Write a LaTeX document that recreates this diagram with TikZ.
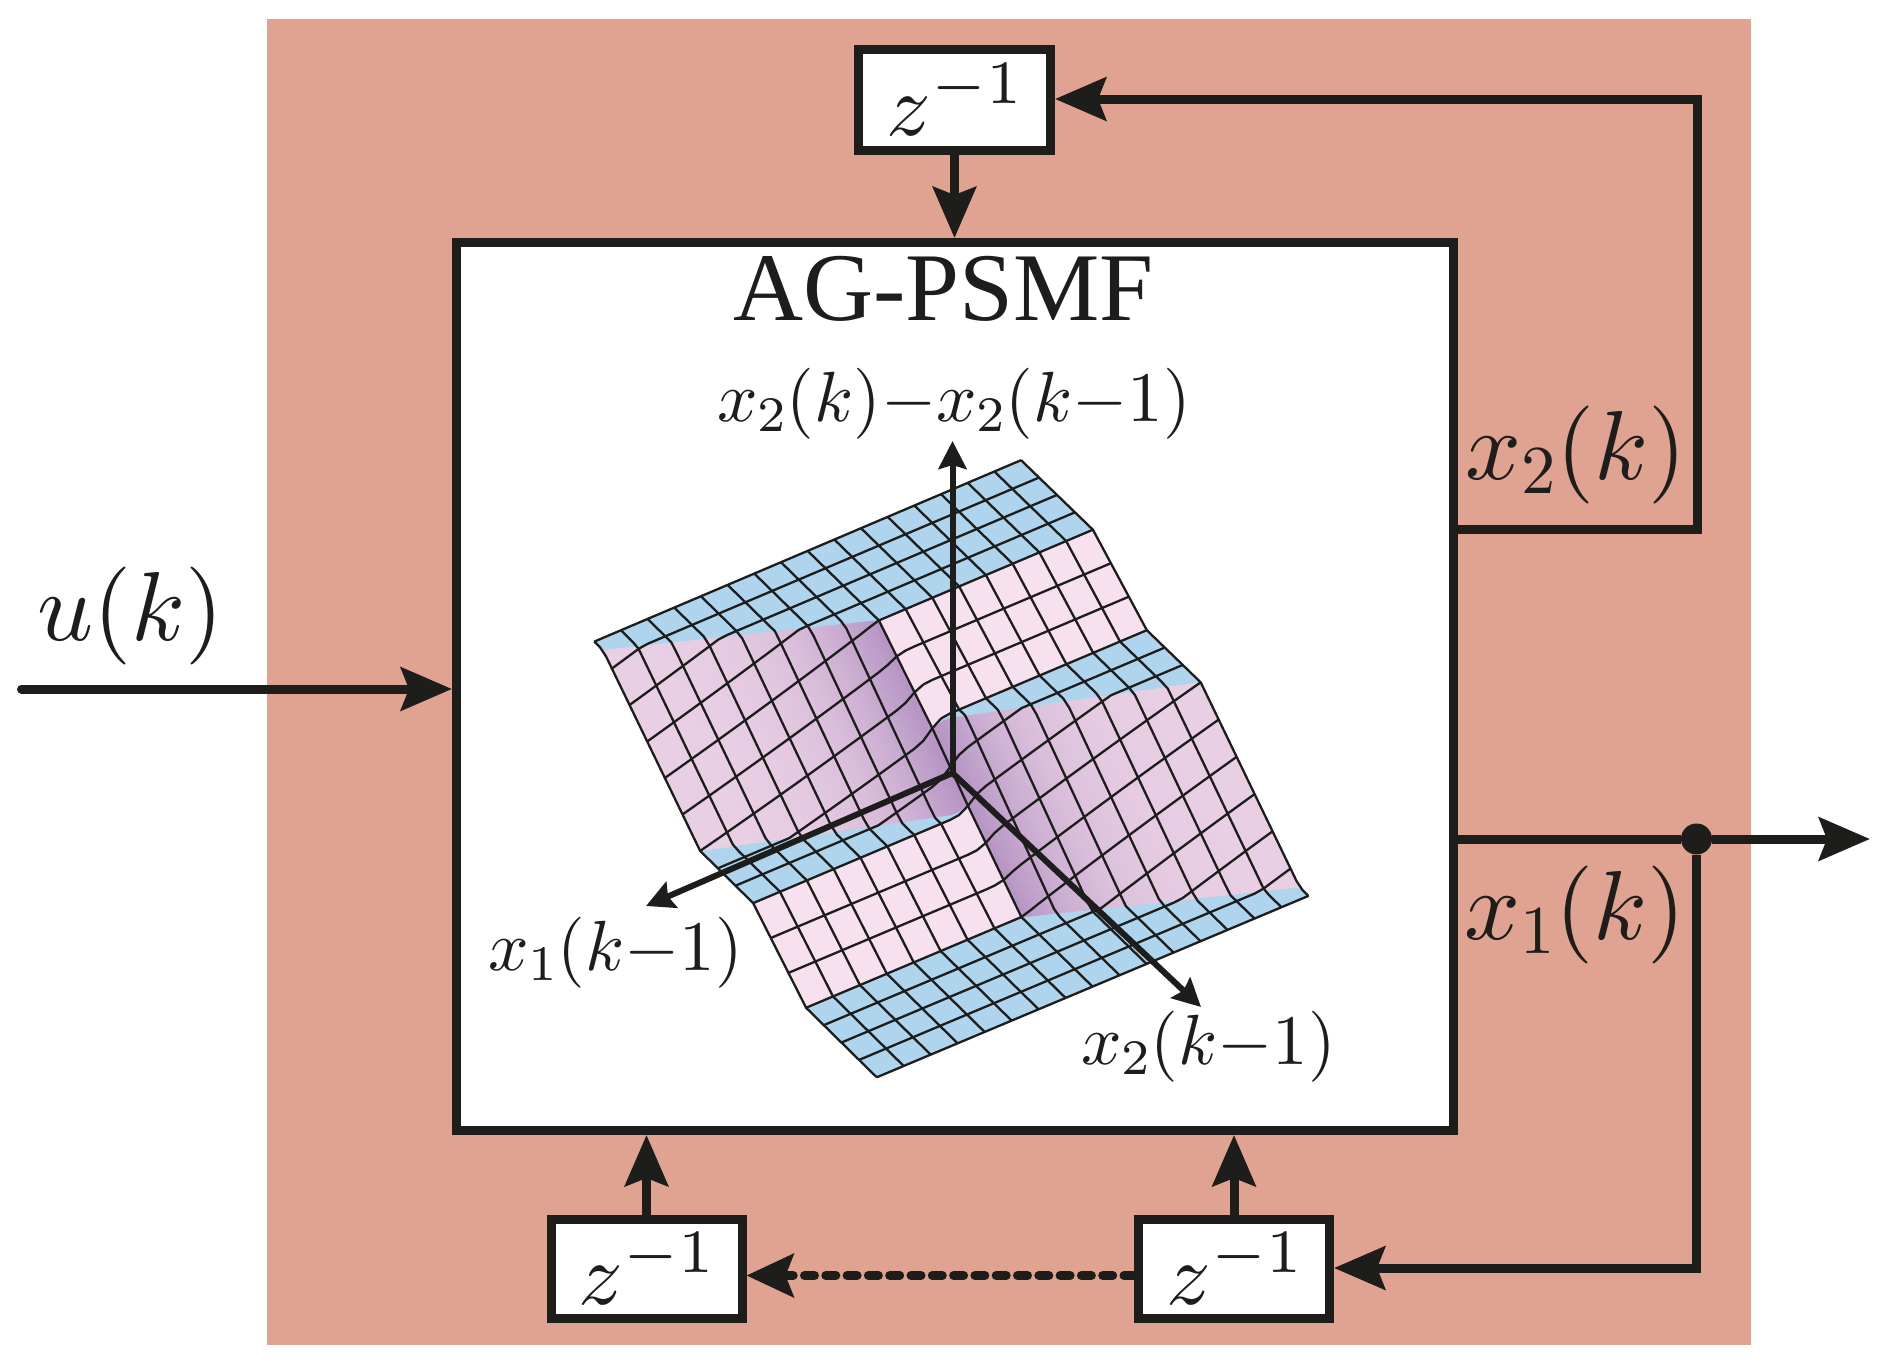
\documentclass[tikz,border=0pt]{standalone}
\usepackage[no-math]{fontspec}
\setmainfont{Liberation Serif}
\usetikzlibrary{arrows.meta,calc}
\DeclareFontShape{OML}{cmm}{m}{it}{<-68> cmmi7 <68-> cmmi10}{}
\DeclareFontShape{OMS}{cmsy}{m}{n}{<-68> cmsy7 <68-> cmsy10}{}
\DeclareFontShape{OT1}{cmr}{m}{n}{<-68> cmr7 <68-> cmr10}{}
\definecolor{ink}{HTML}{1D1D1B}
\definecolor{panel}{HTML}{E0A291}
\definecolor{bluef}{HTML}{AED4EE}
\definecolor{lightp}{HTML}{F8E1EE}
\definecolor{lobebase}{HTML}{E9CFE4}
\definecolor{lobedark}{HTML}{B594C4}
\pgfmathdeclarefunction{cl}{1}{\pgfmathparse{max(0,min(1,#1))}}
\newcommand{\sizeL}{\fontsize{98}{100}\selectfont}
\newcommand{\sizeZ}{\fontsize{88}{92}\selectfont}
\newcommand{\sizeA}{\fontsize{71}{74}\selectfont}
\newcommand{\surfpoint}[3]{%
  \pgfmathsetmacro\U{#1}%
  \pgfmathsetmacro\V{#2}%
  \pgfmathsetmacro\tl{min(\U/8,1)}%
  \pgfmathsetmacro\tr{max((\U-8)/8,0)}%
  \pgfmathsetmacro\DL{250*cl((\V-.5-3.5*\tl)/(5.5-.5*\tl))+125*cl((\V-9)/3)}%
  \pgfmathsetmacro\DR{115*cl((\V-4)/3)+260*cl((\V-7-3*\tr)/(5+.5*\tr))}%
  \pgfmathsetmacro\W{cl((\U-7.6)/.8)}%
  \pgfmathsetmacro\D{(1-\W)*\DL+\W*\DR}%
  \pgfmathsetmacro\PX{570+.485*(50+55*\U+36.4*\V+.04*\U*\V)}%
  \pgfmathsetmacro\PY{440+.42*(480-27*\U+41.4*\V+\D)}%
  \coordinate (#3) at (\PX,\PY);%
}
\tikzset{
  wire/.style={draw=ink,line width=9pt,line join=miter},
  bigarrow/.style={wire,-{Stealth[length=51pt,width=43pt,inset=8pt]}},
  axisarrow/.style={draw=ink,line width=6pt,-{Stealth[length=28pt,width=28pt,inset=4pt]}},
  blockbox/.style={draw=ink,fill=white,line width=9pt,inner sep=0pt,text=ink},
  lab/.style={inner sep=0pt,anchor=base west,text=ink},
  meshline/.style={draw=ink,line width=2.3pt,line join=round},
}
\begin{document}
\begin{tikzpicture}[x=1pt,y=-1pt]
\useasboundingbox (0,0) rectangle (1885,1366);
\fill[panel] (267,19) rectangle (1751,1345);
\node[blockbox,minimum width=996.5pt,minimum height=888pt] (main) at (954.75,686.5) {};
% surface vertices
\foreach \i in {0,...,48}{
 \foreach \j in {0,...,48}{
  \surfpoint{\i/3}{\j/3}{p-\i-\j}
 }
}
% surface colours: flat strips and light faces
\foreach \i [evaluate=\i as \ii using int(\i+1)] in {0,...,47}{
 \foreach \j [evaluate=\j as \jj using int(\j+1)] in {0,...,47}{
  \pgfmathsetmacro\U{(\i+.5)/3}
  \pgfmathsetmacro\V{(\j+.5)/3}
  \pgfmathsetmacro\tl{\U/8}
  \pgfmathsetmacro\tr{(\U-8)/8}
  \pgfmathtruncatemacro\kind{\U<8 ? (\V<.9+3.5*\tl ? 0 : (\V<5.6+3*\tl ? 2 : (\V<9 ? 0 : (\V<12 ? 1 : 0)))) : (\V<4 ? 0 : (\V<7 ? 1 : (\V<7.4+3*\tr ? 0 : (\V<11.6+3.5*\tr ? 3 : 0))))}
  \ifcase\kind\relax
    \def\cc{bluef}%
  \or
    \def\cc{lightp}%
  \or
    \def\cc{lobedark!30!lobebase}%
  \or
    \def\cc{lobedark!30!lobebase}%
  \fi
  \path[fill=\cc,draw=\cc,line width=.5pt] (p-\i-\j) -- (p-\ii-\j) -- (p-\ii-\jj) -- (p-\i-\jj) -- cycle;
 }
}
% shaded lobes, with exact borders
\foreach \c in {0,...,47}{
  \pgfmathsetmacro\ua{\c/6}
  \pgfmathsetmacro\ub{(\c+1)/6}
  \pgfmathsetmacro\sh{100*((\c+.5)/48)^3}
  \surfpoint{\ua}{.5+3.5*\ua/8}{qa}
  \surfpoint{\ub}{.5+3.5*\ub/8}{qb}
  \surfpoint{\ub}{6+3*\ub/8}{qc}
  \surfpoint{\ua}{6+3*\ua/8}{qd}
  \path[fill=lobedark!\sh!lobebase,draw=lobedark!\sh!lobebase,line width=.5pt] (qa) -- (qb) -- (qc) -- (qd) -- cycle;
}
\foreach \c in {0,...,47}{
  \pgfmathsetmacro\ua{8+\c/6}
  \pgfmathsetmacro\ub{8+(\c+1)/6}
  \pgfmathsetmacro\sh{100*(1-(\c+.5)/48)^3}
  \surfpoint{\ua}{7+3*(\ua-8)/8}{qa}
  \surfpoint{\ub}{7+3*(\ub-8)/8}{qb}
  \surfpoint{\ub}{12+3.5*(\ub-8)/8}{qc}
  \surfpoint{\ua}{12+3.5*(\ua-8)/8}{qd}
  \path[fill=lobedark!\sh!lobebase,draw=lobedark!\sh!lobebase,line width=.5pt] (qa) -- (qb) -- (qc) -- (qd) -- cycle;
}
% mesh lines
\foreach \r in {0,...,16}{
  \pgfmathtruncatemacro\k{3*\r}
  \draw[meshline] (p-0-\k) \foreach \s in {1,...,48}{ -- (p-\s-\k)};
  \draw[meshline] (p-\k-0) \foreach \s in {1,...,48}{ -- (p-\k-\s)};
}
% axes
\coordinate (orig) at (952.5,773);
\coordinate (axup) at (952.5,441);
\coordinate (axleft) at (646,906);
\coordinate (axright) at (1201,1007);
\draw[axisarrow] (orig) -- (axup);
\draw[axisarrow] (orig) -- (axleft);
\draw[axisarrow] (orig) -- (axright);
% blocks
\node[blockbox,minimum width=192pt,minimum height=101pt,font=\sizeZ] (ztop) at (954.5,100) {$z^{-1}$};
\node[blockbox,minimum width=191pt,minimum height=99pt,font=\sizeZ] (zl) at (646.5,1269) {$z^{-1}$};
\node[blockbox,minimum width=191pt,minimum height=99pt,font=\sizeZ] (zr) at (1234,1269) {$z^{-1}$};
\node[circle,fill=ink,minimum size=31pt,inner sep=0pt] (dot) at (1696.5,839) {};
% junction coordinates
\coordinate (uin) at (21.5,689);
\coordinate (c2a) at (1697,529);
\coordinate (c2b) at (1697,99);
\coordinate (c1) at (1696.5,1268);
\coordinate (yout) at (1870,839);
% connectors
\draw[bigarrow,line cap=round] (uin) -- (main.west |- uin);
\draw[bigarrow] (ztop.south) -- (ztop.south |- main.north);
\draw[bigarrow] (main.east |- c2a) -- (c2a) -- (c2b) -- (ztop.east |- c2b);
\draw[wire] (main.east |- dot) -- (dot);
\draw[bigarrow] (dot) -- (yout);
\draw[bigarrow] (dot) -- (c1) -- (zr.east |- c1);
\draw[bigarrow] (zl.north) -- (zl.north |- main.south);
\draw[bigarrow] (zr.north) -- (zr.north |- main.south);
\draw[draw=ink,line width=9pt,line cap=round,dash pattern=on 10pt off 11.3pt] ([yshift=-6.5pt]zr.west) -- ([yshift=-6.5pt,xshift=40pt]zl.east);
\draw[bigarrow,-{Stealth[length=47pt,width=43pt,inset=8pt]}] ([yshift=-6.5pt,xshift=38pt]zl.east) -- ([yshift=-6.5pt]zl.east);
% labels
\node[lab,font=\fontsize{97}{100}\selectfont] (title) at (733,320) {AG-PSMF};
\node[lab,font=\sizeL] (lu) at (37,640) {$u(k)$};
\node[lab,font=\sizeL] (lx2) at (1465,479) {$x_2(k)$};
\node[lab,font=\sizeL] (lx1) at (1464,939) {$x_1(k)$};
\node[lab,font=\sizeA] (a1) at (717,421) {$x_2(k){-}x_2(k{-}1)$};
\node[lab,font=\sizeA] (a2) at (488,970) {$x_1(k{-}1)$};
\node[lab,font=\sizeA] (a3) at (1081,1064) {$x_2(k{-}1)$};
\end{tikzpicture}
\end{document}
